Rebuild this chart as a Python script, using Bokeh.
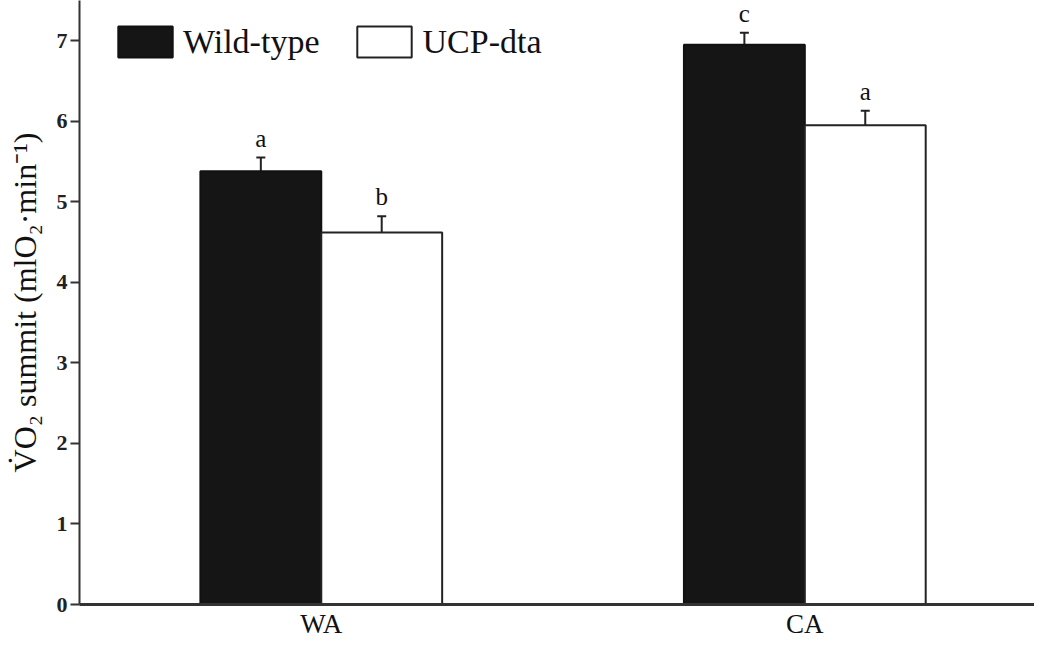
from bokeh.plotting import figure
from bokeh.models import (ColumnDataSource, Range1d, Whisker, TeeHead,
                          LabelSet, Legend, LegendItem, FixedTicker)
from bokeh.transform import dodge
from bokeh.embed import file_html
from bokeh.resources import INLINE

# ---- data ----
categories = ["WA", "CA"]
series_names = ["Wild-type", "UCP-dta"]
wt_mean = [5.38, 6.95]
wt_err = [0.17, 0.15]
wt_letters = ["a", "c"]
ucp_mean = [4.62, 5.95]
ucp_err = [0.20, 0.18]
ucp_letters = ["b", "a"]
y_ticks = [0, 1, 2, 3, 4, 5, 6, 7]

SERIF = "Liberation Serif"

centers = [i + 0.5 for i in range(len(categories))]

def make_src(means, errs, letters):
    return ColumnDataSource(dict(
        x=centers, cat=categories, mean=means,
        upper=[m + e for m, e in zip(means, errs)],
        letter=letters))

src_wt = make_src(wt_mean, wt_err, wt_letters)
src_ucp = make_src(ucp_mean, ucp_err, ucp_letters)

p = figure(width=1034, height=641, output_backend="svg", toolbar_location=None,
           x_range=Range1d(0, 1.975), y_range=Range1d(0, 7.5),
           min_border_left=79, min_border_right=0, min_border_top=0,
           min_border_bottom=34)
p.outline_line_color = None
p.xgrid.grid_line_color = None
p.ygrid.grid_line_color = None
p.background_fill_color = "white"

bw = 0.25
r_wt = p.vbar(x=dodge("x", -bw / 2), top="mean", width=bw, bottom=0,
              source=src_wt, fill_color="#151515", line_color="#111111",
              line_width=2)
r_ucp = p.vbar(x=dodge("x", bw / 2), top="mean", width=bw, bottom=0,
               source=src_ucp, fill_color="white", line_color="#222222",
               line_width=2)

for src, off in ((src_wt, -bw / 2), (src_ucp, bw / 2)):
    w = Whisker(base=dodge("x", off), lower="mean", upper="upper",
                source=src, line_color="#222222", line_width=2,
                lower_head=None,
                upper_head=TeeHead(size=9, line_color="#222222", line_width=2))
    p.add_layout(w)
    lab = LabelSet(x=dodge("x", off), y="upper", text="letter",
                   source=src, y_offset=11, text_align="center",
                   text_baseline="alphabetic", text_font=SERIF,
                   text_font_size="25px", text_color="#111111")
    p.add_layout(lab)

# x axis: category names as tick labels at group centres
xa = p.xaxis[0]
xa.ticker = FixedTicker(ticks=centers)
xa.major_label_overrides = {c: name for c, name in zip(centers, categories)}
xa.major_tick_out = 0
xa.major_tick_in = 0
xa.major_tick_line_color = None
xa.minor_tick_line_color = None
xa.major_label_standoff = 4
xa.major_label_text_font = SERIF
xa.major_label_text_font_style = "normal"
xa.major_label_text_font_size = "27px"
xa.major_label_text_color = "#111111"
xa.axis_line_width = 3
xa.axis_line_color = "#333333"

ya = p.yaxis[0]
ya.ticker = FixedTicker(ticks=y_ticks)
ya.major_label_text_font = SERIF
ya.major_label_text_font_style = "bold"
ya.major_label_text_font_size = "22px"
ya.major_label_text_color = "#222222"
ya.major_label_standoff = 3
ya.major_tick_out = 9
ya.major_tick_in = 0
ya.major_tick_line_width = 2
ya.major_tick_line_color = "#333333"
ya.minor_tick_line_color = None
ya.axis_line_width = 2
ya.axis_line_color = "#333333"
ya.axis_label = "V\u0307O\u2082 summit (mlO\u2082\u00b7min\u207b\u00b9)"
ya.axis_label_text_font = SERIF
ya.axis_label_text_font_style = "normal"
ya.axis_label_text_font_size = "32px"
ya.axis_label_text_color = "#111111"
ya.axis_label_standoff = 11

legend = Legend(items=[LegendItem(label=series_names[0], renderers=[r_wt]),
                       LegendItem(label=series_names[1], renderers=[r_ucp])],
                orientation="horizontal", location=(32, 543),
                glyph_width=68, glyph_height=39, label_standoff=4, spacing=31,
                padding=0, margin=0, border_line_color=None,
                background_fill_alpha=0, label_text_font=SERIF,
                label_text_font_size="34px", label_text_color="#111111")
p.add_layout(legend)

open("out.html", "w").write(file_html(p, INLINE))
